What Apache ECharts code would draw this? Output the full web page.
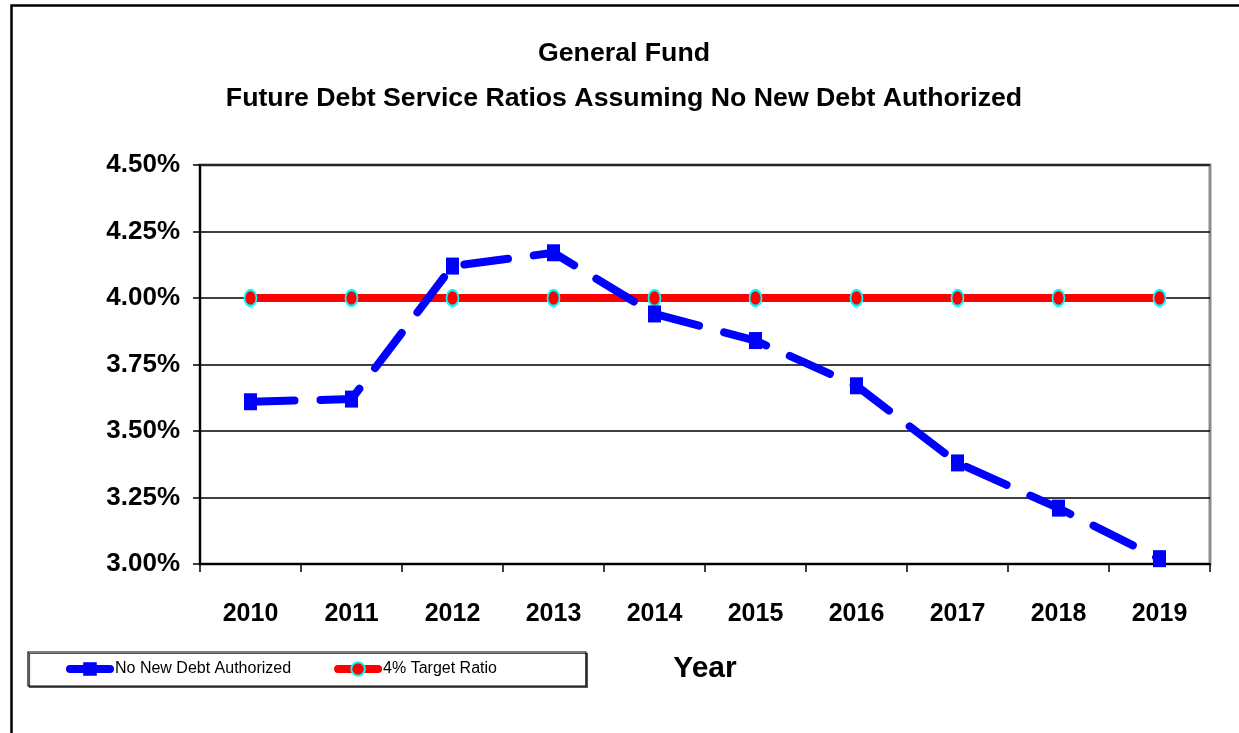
<!DOCTYPE html>
<html>
<head>
<meta charset="utf-8">
<style>
  html, body { margin: 0; padding: 0; background: #fff; }
  #chart { width: 1239px; height: 733px; }
</style>
<script src="https://cdn.jsdelivr.net/npm/echarts@6/dist/echarts.min.js"></script>
</head>
<body>
<div id="chart"></div>
<script>
// Fiscal years on the category axis
const years = ['2010', '2011', '2012', '2013', '2014', '2015', '2016', '2017', '2018', '2019'];
// Debt service ratio (%) with no new debt authorized
const noNewDebt = [3.61, 3.62, 4.12, 4.17, 3.94, 3.84, 3.67, 3.38, 3.21, 3.02];
// Policy target ratio (%)
const targetRatio = [4.00, 4.00, 4.00, 4.00, 4.00, 4.00, 4.00, 4.00, 4.00, 4.00];
// Value axis range and step (%)
const yMin = 3.00, yMax = 4.50, yStep = 0.25;

const SANS = "'Liberation Sans', Arial, sans-serif";

const chart = echarts.init(document.getElementById('chart'), null, { renderer: 'canvas' });

chart.setOption({
  backgroundColor: '#ffffff',
  animation: false,
  title: {
    text: 'General Fund\nFuture Debt Service Ratios Assuming No New Debt Authorized',
    left: 619,
    textAlign: 'center',
    top: 26,
    textStyle: {
      fontFamily: SANS,
      fontWeight: 'bold',
      fontSize: 26.7,
      lineHeight: 45,
      color: '#000'
    }
  },
  graphic: [{
    type: 'rect',
    left: 9,
    top: 3,
    shape: { width: 1260, height: 760 },
    style: { fill: null, stroke: '#000', lineWidth: 2.5 },
    silent: true
  }],
  legend: {
    left: 28,
    top: 652,
    padding: [9, 89, 9, 38],
    itemGap: 43,
    itemWidth: 40,
    itemHeight: 17,
    backgroundColor: '#fff',
    borderColor: '#000',
    borderWidth: 1.2,
    shadowColor: '#555',
    shadowOffsetX: 1.5,
    shadowOffsetY: 1.5,
    shadowBlur: 0,
    lineStyle: { type: 'solid', width: 8, cap: 'round' },
    textStyle: { fontFamily: SANS, fontSize: 16, color: '#000' },
    data: ['No New Debt Authorized', '4% Target Ratio']
  },
  grid: {
    left: 200,
    top: 165,
    right: 29,
    bottom: 169,
    show: true,
    borderColor: '#8c8c8c',
    borderWidth: 3,
    backgroundColor: '#fff'
  },
  xAxis: {
    type: 'category',
    data: years,
    boundaryGap: true,
    name: 'Year',
    nameLocation: 'middle',
    nameGap: 90,
    nameTextStyle: { fontFamily: SANS, fontWeight: 'bold', fontSize: 30, color: '#000' },
    axisLine: { lineStyle: { color: '#000', width: 2 } },
    axisTick: { show: true, inside: false, length: 8, lineStyle: { color: '#000', width: 1.5 } },
    axisLabel: { margin: 38, fontFamily: SANS, fontWeight: 'bold', fontSize: 25, color: '#000' },
    splitLine: { show: false }
  },
  yAxis: {
    type: 'value',
    min: yMin,
    max: yMax,
    interval: yStep,
    axisLine: { show: true, lineStyle: { color: '#000', width: 2 } },
    axisTick: { show: true, inside: false, length: 7, lineStyle: { color: '#000', width: 1.5 } },
    axisLabel: {
      margin: 20,
      fontFamily: SANS,
      fontWeight: 'bold',
      fontSize: 26,
      color: '#000',
      formatter: v => v.toFixed(2) + '%'
    },
    splitLine: { show: true, lineStyle: { color: '#000', width: 1.5 } }
  },
  series: [
    {
      name: 'No New Debt Authorized',
      type: 'line',
      data: noNewDebt,
      z: 3,
      symbol: 'rect',
      symbolSize: [13, 17],
      showSymbol: true,
      color: '#0000ff',
      itemStyle: { color: '#0000ff' },
      lineStyle: { color: '#0000ff', width: 8, type: [44, 26], cap: 'round', join: 'round' }
    },
    {
      name: '4% Target Ratio',
      type: 'line',
      data: targetRatio,
      z: 2,
      symbol: 'circle',
      symbolSize: [12, 16],
      showSymbol: true,
      color: '#ff0000',
      itemStyle: { color: '#ff0000', borderColor: '#00ffff', borderWidth: 2 },
      lineStyle: { color: '#ff0000', width: 8 }
    }
  ]
});
</script>
</body>
</html>
